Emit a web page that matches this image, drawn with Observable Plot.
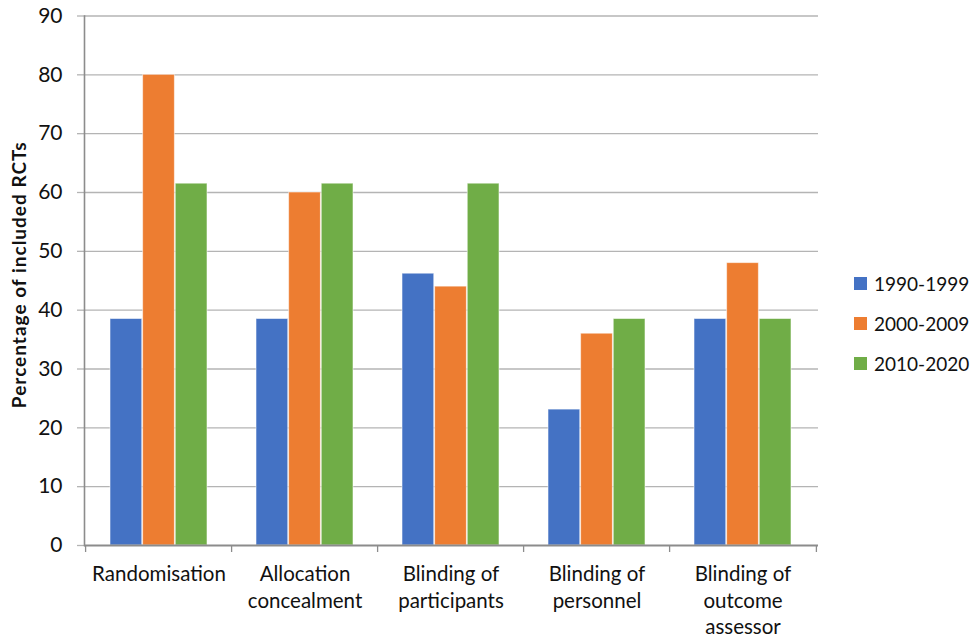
<!DOCTYPE html>
<html>
<head>
<meta charset="utf-8">
<script src="https://cdn.jsdelivr.net/npm/d3@7"></script>
<script src="https://cdn.jsdelivr.net/npm/@observablehq/plot@0.6"></script>
<style>
  body { margin: 0; background: #fff; }
  #chart { position: relative; width: 972px; height: 638px; font-family: Lato, "Open Sans", sans-serif; }
  #legend { position: absolute; left: 854px; top: 263px; }
  .item { display: flex; align-items: center; height: 40px; font-size: 19px; color: #111; }
  .sw { width: 13px; height: 13px; margin-right: 7px; flex: none; }
</style>
</head>
<body>
<div id="chart"><div id="legend"></div></div>
<script>
// Risk-of-bias domains reported, share of included RCTs per decade
const categories = ["Randomisation", "Allocation concealment", "Blinding of participants", "Blinding of personnel", "Blinding of outcome assessor"];
const categoryLabels = ["Randomisation", "Allocation\nconcealment", "Blinding of\nparticipants", "Blinding of\npersonnel", "Blinding of\noutcome\nassessor"];
const periods = ["1990-1999", "2000-2009", "2010-2020"];
const values1990 = [38.5, 38.5, 46.2, 23.1, 38.5];
const values2000 = [80, 60, 44, 36, 48];
const values2010 = [61.5, 61.5, 61.5, 38.5, 38.5];
const yTicks = [0, 10, 20, 30, 40, 50, 60, 70, 80, 90];
const yTitle = "Percentage of included RCTs";
const colors = ["#4472C4", "#ED7D31", "#70AD47"];

const seriesValues = [values1990, values2000, values2010];
const rows = periods.flatMap((p, j) => categories.map((c, i) => ({category: c, period: p, value: seriesValues[j][i]})));
const labelOf = new Map(categories.map((c, i) => [c, categoryLabels[i]]));

// layout
const W = 972, H = 638, mL = 84, mR = 154, mT = 15.5, mB = 93;
const step = (W - mL - mR) / categories.length;
const band = step * 2 / 3;
const sub = band / periods.length;

const axisGray = "#8c8c8c", gridGray = "#b4b4b4";

const barMarks = periods.map((p, j) => Plot.barY(rows.filter(d => d.period === p), {
  x: "category",
  y: "value",
  fill: colors[j],
  stroke: "#fff",
  strokeOpacity: 0.55,
  strokeWidth: 1,
  insetLeft: j * sub,
  insetRight: (periods.length - 1 - j) * sub
}));

const chart = Plot.plot({
  width: W,
  height: H,
  marginLeft: mL,
  marginRight: mR,
  marginTop: mT,
  marginBottom: mB,
  style: {fontFamily: "Lato, 'Open Sans', sans-serif", fontSize: "18px", color: "#111", background: "#fff"},
  x: {type: "band", domain: categories, paddingInner: 1 / 3, paddingOuter: 1 / 6, axis: null},
  y: {domain: [0, 90], axis: null},
  marks: [
    Plot.gridY(yTicks.filter(t => t > 0), {stroke: gridGray, strokeOpacity: 1, strokeWidth: 1.3}),
    Plot.axisY(yTicks, {label: null, tickSize: 7, tickPadding: 15, stroke: gridGray, strokeOpacity: 1, strokeWidth: 1.3, fill: "#111", fontSize: 21}),
    Plot.frame({anchor: "left", stroke: axisGray, strokeWidth: 1.6}),
    ...barMarks,
    Plot.ruleY([0], {stroke: axisGray, strokeWidth: 2}),
    // tick marks at the category boundaries
    Plot.axisX(categories, {label: null, tickSize: 7, text: null, dx: -step / 2, stroke: axisGray, strokeWidth: 1.3}),
    Plot.axisX(categories.slice(-1), {label: null, tickSize: 7, text: null, dx: step / 2, stroke: axisGray, strokeWidth: 1.3}),
    // category names
    Plot.axisX(categories, {label: null, tickSize: 0, tickPadding: 16.5, tickFormat: d => labelOf.get(d), lineHeight: 1.3, fontSize: 20.5, fill: "#111"}),
    Plot.text([yTitle], {
      text: d => d,
      frameAnchor: "left",
      rotate: -90,
      dx: -65,
      dy: -6,
      textAnchor: "middle",
      lineAnchor: "middle",
      fontWeight: "bold",
      fontSize: 19,
      fill: "#111"
    })
  ]
});

// slightly open up the bold axis title
d3.select(chart).selectAll("text")
  .filter(function () { return this.textContent === yTitle; })
  .style("letter-spacing", "1px");

document.getElementById("chart").prepend(chart);

const legend = document.getElementById("legend");
periods.forEach((p, j) => {
  const item = document.createElement("div");
  item.className = "item";
  const sw = document.createElement("span");
  sw.className = "sw";
  sw.style.background = colors[j];
  const label = document.createElement("span");
  label.textContent = p;
  item.append(sw, label);
  legend.append(item);
});
</script>
</body>
</html>
